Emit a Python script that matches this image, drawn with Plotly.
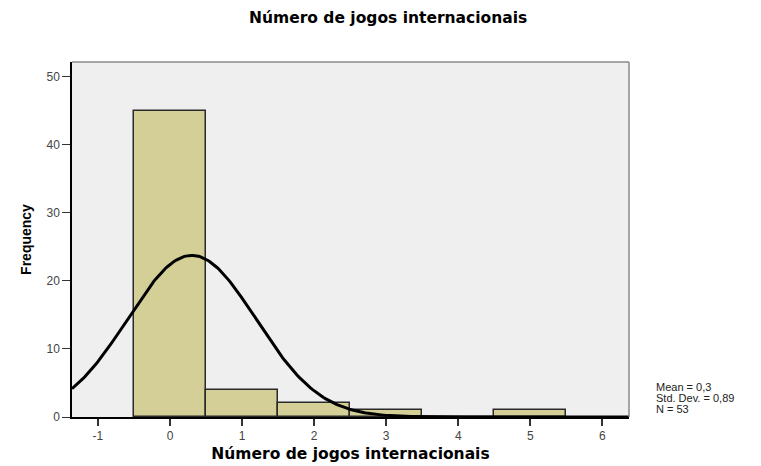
import numpy as np
import plotly.graph_objects as go

# Data
bin_centers = [0, 1, 2, 3, 4, 5]
frequencies = [45, 4, 2, 1, 0, 1]
x_ticks = [-1, 0, 1, 2, 3, 4, 5, 6]
y_ticks = [0, 10, 20, 30, 40, 50]
title_text = "Número de jogos internacionais"

# Stats from the data
vals = np.repeat(bin_centers, frequencies)
n = len(vals)
mean = vals.mean()
sd = vals.std(ddof=1)

xs = np.linspace(-1.36, 6.37, 300)
curve = n * 1.0 / (sd * np.sqrt(2 * np.pi)) * np.exp(-0.5 * ((xs - mean) / sd) ** 2)

fig = go.Figure()
fig.add_trace(go.Bar(
    x=bin_centers, y=frequencies, width=1.0,
    marker=dict(color="#D3CF96", line=dict(color="#2a2a2a", width=1.5)),
    showlegend=False, hoverinfo="skip"))
fig.add_trace(go.Scatter(
    x=xs, y=curve, mode="lines",
    line=dict(color="black", width=3), showlegend=False, hoverinfo="skip"))

# Frame: gray top/right
fig.add_shape(type="line", xref="paper", yref="paper", x0=0, x1=1, y0=1, y1=1,
              line=dict(color="#8a8a8a", width=1.5))
fig.add_shape(type="line", xref="paper", yref="paper", x0=1, x1=1, y0=0, y1=1,
              line=dict(color="#8a8a8a", width=1.5))

mean_s = f"{mean:.1f}".replace(".", ",")
sd_s = f"{sd:.2f}".replace(".", ",")
stat_lines = [f"Mean = {mean_s}", f"Std. Dev. = {sd_s}", f"N = {n}"]
for txt, yy in zip(stat_lines, [0.0845, 0.0535, 0.0225]):
    fig.add_annotation(
        xref="paper", yref="paper", x=1.045, y=yy, xanchor="left", yanchor="middle",
        align="left", showarrow=False, text=txt,
        font=dict(family="Liberation Sans, Arial", size=11, color="#222"))

fig.update_layout(
    width=761, height=466,
    margin=dict(l=72, r=132, t=62, b=49, autoexpand=False),
    paper_bgcolor="white", plot_bgcolor="#EFEFEF",
    bargap=0,
    title=dict(text="<b>" + title_text + "</b>", x=0.51, xanchor="center", y=0.962, yanchor="middle",
               font=dict(family="DejaVu Sans", size=15.5, color="black")),
    font=dict(family="Liberation Sans, Arial", size=12, color="#444"),
    xaxis=dict(range=[-1.36, 6.37], tickvals=x_ticks, ticktext=[str(t) for t in x_ticks],
               showgrid=False, zeroline=False, showline=True, linecolor="black", linewidth=1.5,
               ticks="outside", ticklen=7, tickwidth=2, tickcolor="#333", automargin=False,
               title=dict(text="<b>" + title_text + "</b>", standoff=6,
                          font=dict(family="DejaVu Sans", size=15.5, color="black"))),
    yaxis=dict(range=[0, 52.2], tickvals=y_ticks, automargin=False,
               showgrid=False, zeroline=False, showline=True, linecolor="black", linewidth=1.5,
               ticks="outside", ticklen=8, tickwidth=1, tickcolor="#333",
               title=dict(text="<b>Frequency</b>", standoff=12,
                          font=dict(family="Liberation Sans, Arial", size=14, color="black"))),
)

fig.write_html("out.html", config={"displayModeBar": False},
               post_script="document.body.style.margin='0';")
